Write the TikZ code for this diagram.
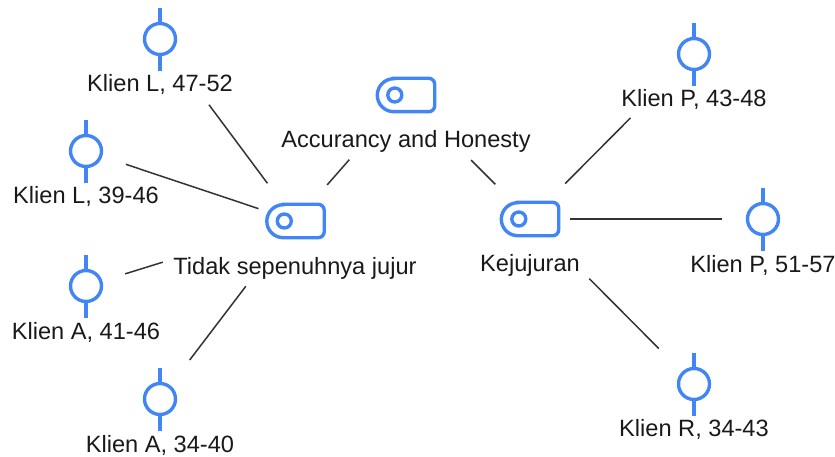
\documentclass[tikz,border=0pt]{standalone}
\usepackage{fontspec}
\setmainfont{Liberation Sans}
\definecolor{iconblue}{HTML}{4285F4}
\definecolor{linegray}{HTML}{333333}
\tikzset{
	client/.style={shape=circle, draw=iconblue, line width=3.4pt, minimum size=31pt, inner sep=0pt},
	topic/.style={shape=rectangle, minimum width=57pt, minimum height=33pt, inner sep=0pt},
	dot/.style={shape=circle, draw=iconblue, line width=3.4pt, minimum size=14pt, inner sep=0pt},
	stem/.style={draw=iconblue, line width=3.4pt},
	caption/.style={text=black!90, font=\fontsize{23.6}{26}\selectfont, text height=17pt, text depth=5pt, inner sep=0pt},
	link/.style={draw=linegray, line width=1.5pt},
}
\begin{document}
\begin{tikzpicture}[x=1pt, y=-1pt]
	\useasboundingbox (0,0) rectangle (835,457);

	\node[topic] (acc) at (406,95) {};
	\node[topic] (tidak) at (295.5,221) {};
	\node[topic] (kej) at (530,219) {};

	\node[client] (l1) at (160,39) {};
	\node[client] (l2) at (86,151) {};
	\node[client] (a1) at (86,286) {};
	\node[client] (a2) at (160,399) {};
	\node[client] (p1) at (694,54) {};
	\node[client] (p2) at (763,219) {};
	\node[client] (r1) at (694,384) {};

	\node[caption] (capacc) at (406,142) {Accurancy and Honesty};
	\node[caption] (captidak) at (295,268) {Tidak sepenuhnya jujur};
	\node[caption] (capkej) at (530,265) {Kejujuran};
	\node[caption] (capl1) at (160,86) {Klien L, 47-52};
	\node[caption] (capl2) at (86,198) {Klien L, 39-46};
	\node[caption] (capa1) at (86,333) {Klien A, 41-46};
	\node[caption] (capa2) at (160,446) {Klien A, 34-40};
	\node[caption] (capp1) at (694,101) {Klien P, 43-48};
	\node[caption] (capp2) at (763,266) {Klien P, 51-57};
	\node[caption] (capr1) at (694,430) {Klien R, 34-43};

	% topic icons
	\foreach \t in {acc,tidak,kej} {
		\draw[stem] ([xshift=16.5pt]\t.north west) -- ([xshift=-6pt]\t.north east)
			arc[start angle=90, end angle=0, radius=6pt] -- ([yshift=6pt]\t.south east)
			arc[start angle=0, end angle=-90, radius=6pt] -- ([xshift=16.5pt]\t.south west)
			arc[start angle=270, end angle=90, radius=16.5pt] -- cycle;
		\node[dot] (\t dot) at ([xshift=17.5pt]\t.west) {};
	}
	% client stems
	\foreach \c in {l1,l2,a1,a2,p1,p2,r1} {
		\draw[stem] (\c.north) -- ++(0,-14);
		\draw[stem] (\c.south) -- ++(0,15);
	}

	\path [link, shorten >=48pt, shorten <=86pt] (acc.center) edge (tidak.center);
	\path [link, shorten >=49pt, shorten <=92pt] (acc.center) edge (kej.center);
	\path [link, shorten >=47pt, shorten <=82pt] (l1.center) edge (tidak.center);
	\path [link, shorten >=39pt, shorten <=42pt] (l2.center) edge (tidak.center);
	\path [link, shorten >=139pt, shorten <=41pt] (a1.center) edge (tidak.center);
	\path [link, shorten >=82pt, shorten <=49pt] (a2.center) edge (tidak.center);
	\path [link, shorten >=50pt, shorten <=90pt] (p1.center) edge (kej.center);
	\path [link, shorten >=40pt, shorten <=41pt] (p2.center) edge (kej.center);
	\path [link, shorten >=84pt, shorten <=50pt] (r1.center) edge (kej.center);
\end{tikzpicture}
\end{document}
